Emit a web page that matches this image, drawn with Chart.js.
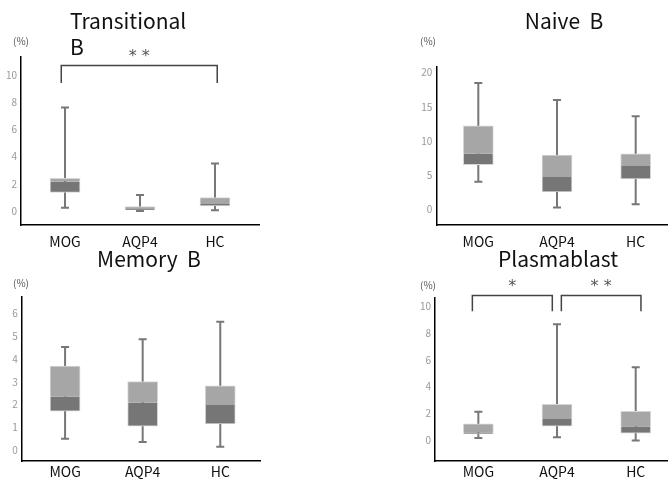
<!DOCTYPE html>
<html>
<head>
<meta charset="utf-8">
<script src="https://cdn.jsdelivr.net/npm/chart.js@4.4.0/dist/chart.umd.min.js"></script>
<style>
body { margin: 0; background: #fff; }
#wrap { position: relative; width: 668px; height: 479px; overflow: hidden; }
canvas { position: absolute; }
</style>
</head>
<body>
<div id="wrap">
  <canvas id="c1" style="left:0px;top:0px" width="334" height="252"></canvas>
  <canvas id="c2" style="left:334px;top:0px" width="334" height="252"></canvas>
  <canvas id="c3" style="left:0px;top:240px" width="334" height="239"></canvas>
  <canvas id="c4" style="left:334px;top:240px" width="334" height="239"></canvas>
</div>
<script>
var groups = ['MOG', 'AQP4', 'HC'];

// Transitional B (%)
var transMin = [0.24, 0.0, 0.05];
var transQ1  = [1.37, 0.07, 0.37];
var transMed = [2.17, 0.13, 0.51];
var transQ3  = [2.4, 0.32, 0.98];
var transMax = [7.6, 1.18, 3.5];
var transTicks = [0, 2, 4, 6, 8, 10];

// Naive B (%)
var naiveMin = [4.0, 0.2, 0.7];
var naiveQ1  = [6.5, 2.5, 4.4];
var naiveMed = [8.1, 4.7, 6.3];
var naiveQ3  = [12.2, 7.9, 8.1];
var naiveMax = [18.5, 16.0, 13.6];
var naiveTicks = [0, 5, 10, 15, 20];

// Memory B (%)
var memMin = [0.5, 0.35, 0.15];
var memQ1  = [1.71, 1.05, 1.15];
var memMed = [2.34, 2.09, 1.98];
var memQ3  = [3.69, 3.01, 2.82];
var memMax = [4.53, 4.86, 5.63];
var memTicks = [0, 1, 2, 3, 4, 5, 6];

// Plasmablast (%)
var plasMin = [0.15, 0.2, -0.05];
var plasQ1  = [0.45, 1.03, 0.5];
var plasMed = [0.55, 1.58, 1.0];
var plasQ3  = [1.2, 2.68, 2.15];
var plasMax = [2.12, 8.68, 5.45];
var plasTicks = [0, 2, 4, 6, 8, 10];

var fontJP = '"Noto Sans CJK JP", "Noto Sans", sans-serif';

// whiskers under the boxes, drawn through the scales
var whiskerPlugin = {
  id: 'whiskers',
  beforeDatasetsDraw: function(chart) {
    var o = chart.options.plugins.whiskers;
    var xs = chart.scales.x, ys = chart.scales.y, ctx = chart.ctx;
    ctx.save();
    ctx.strokeStyle = '#777';
    ctx.lineWidth = 2;
    for (var i = 0; i < o.min.length; i++) {
      var x = xs.getPixelForValue(i);
      var y1 = ys.getPixelForValue(o.min[i]);
      var y2 = ys.getPixelForValue(o.max[i]);
      ctx.beginPath();
      ctx.moveTo(x, y1); ctx.lineTo(x, y2);
      ctx.moveTo(x - 4, y1); ctx.lineTo(x + 4, y1);
      ctx.moveTo(x - 4, y2); ctx.lineTo(x + 4, y2);
      ctx.stroke();
    }
    ctx.restore();
  }
};

// title, unit label and significance brackets
var notePlugin = {
  id: 'notes',
  afterDraw: function(chart) {
    var o = chart.options.plugins.notes;
    var xs = chart.scales.x, ys = chart.scales.y, ctx = chart.ctx;
    ctx.save();
    ctx.fillStyle = '#111';
    ctx.font = '21px ' + fontJP;
    ctx.textBaseline = 'alphabetic';
    o.title.forEach(function(t) {
      ctx.textAlign = t.align;
      ctx.fillText(t.text, t.x, t.y);
    });
    ctx.fillStyle = '#555';
    ctx.font = '10px ' + fontJP;
    ctx.textAlign = 'center';
    ctx.textBaseline = 'middle';
    ctx.fillText('(%)', o.unit[0], o.unit[1]);
    (o.brackets || []).forEach(function(b) {
      var xa = xs.getPixelForValue(b.from), xb = xs.getPixelForValue(b.to);
      var yt = ys.getPixelForValue(b.top), yb = ys.getPixelForValue(b.bottom);
      ctx.strokeStyle = '#444';
      ctx.lineWidth = 1.5;
      ctx.beginPath();
      ctx.moveTo(xa, yb); ctx.lineTo(xa, yt); ctx.lineTo(xb, yt); ctx.lineTo(xb, yb);
      ctx.stroke();
      ctx.fillStyle = '#555';
      ctx.font = '16px "DejaVu Sans", sans-serif';
      ctx.textAlign = 'center';
      ctx.textBaseline = 'middle';
      ctx.fillText(b.label, (xa + xb) / 2, yt - 9);
    });
    ctx.restore();
  }
};

function makePanel(id, p) {
  var pairs = function(a, b) {
    return groups.map(function(g, i) { return { x: i, y: [a[i], b[i]] }; });
  };
  return new Chart(document.getElementById(id), {
    type: 'bar',
    data: {
      datasets: [{
        label: 'lower',
        data: pairs(p.q1, p.med),
        backgroundColor: '#767676',
        borderColor: '#d6d6d6',
        borderWidth: 1,
        borderSkipped: 'end',
        barThickness: 30,
        grouped: false
      }, {
        label: 'upper',
        data: pairs(p.med, p.q3),
        backgroundColor: '#a6a6a6',
        borderColor: '#d6d6d6',
        borderWidth: 1,
        borderSkipped: 'start',
        barThickness: 30,
        grouped: false
      }]
    },
    options: {
      responsive: false,
      animation: false,
      layout: { padding: p.pad },
      plugins: {
        legend: { display: false },
        tooltip: { enabled: false },
        whiskers: { min: p.min, max: p.max },
        notes: { title: p.title, unit: p.unit, brackets: p.brackets }
      },
      scales: {
        x: {
          type: 'linear',
          offset: false,
          min: p.xr[0], max: p.xr[1],
          afterBuildTicks: function(s) { s.ticks = groups.map(function(g, i) { return { value: i }; }); },
          afterFit: function(s) { s.height = p.xh; },
          grid: { display: false, drawTicks: false },
          border: { display: true, color: '#000', width: 1.5 },
          ticks: {
            padding: p.xpad,
            color: '#111',
            font: { family: fontJP, size: 14 },
            maxRotation: 0,
            autoSkip: false,
            callback: function(v) { return groups[v]; }
          }
        },
        y: {
          min: p.yr[0], max: p.yr[1],
          afterBuildTicks: function(s) { s.ticks = p.ticks.map(function(v) { return { value: v }; }); },
          afterFit: function(s) { s.width = p.yw; },
          grid: { display: false, drawTicks: false },
          border: { display: true, color: '#000', width: 1.5 },
          ticks: {
            padding: 4,
            color: '#999',
            font: { family: fontJP, size: 10 },
            autoSkip: false
          }
        }
      }
    },
    plugins: [whiskerPlugin, notePlugin]
  });
}

makePanel('c1', {
  min: transMin, q1: transQ1, med: transMed, q3: transQ3, max: transMax, ticks: transTicks,
  xr: [-0.587, 2.587], yr: [-1.03, 11.32],
  pad: { left: 0, top: 57, right: 75, bottom: 0 }, yw: 21, xh: 27, xpad: 8,
  title: [{ text: 'Transitional', x: 70, y: 29, align: 'left' }, { text: 'B', x: 70, y: 55, align: 'left' }],
  unit: [21, 41],
  brackets: [{ from: -0.05, to: 2.03, top: 10.7, bottom: 9.4, label: '* *' }]
});

makePanel('c2', {
  min: naiveMin, q1: naiveQ1, med: naiveMed, q3: naiveQ3, max: naiveMax, ticks: naiveTicks,
  xr: [-0.534, 2.398], yr: [-2.35, 20.88],
  pad: { left: 0, top: 66.7, right: 1, bottom: 0 }, yw: 102.3, xh: 27, xpad: 8,
  title: [{ text: 'Naive  B', x: 230, y: 29, align: 'center' }],
  unit: [94, 41],
  brackets: []
});

makePanel('c3', {
  min: memMin, q1: memQ1, med: memMed, q3: memQ3, max: memMax, ticks: memTicks,
  xr: [-0.559, 2.512], yr: [-0.48, 6.72],
  pad: { left: 0, top: 57, right: 74, bottom: 0 }, yw: 21.7, xh: 18, xpad: 2,
  title: [{ text: 'Memory  B', x: 149, y: 26.7, align: 'center' }],
  unit: [21, 43],
  brackets: []
});

makePanel('c4', {
  min: plasMin, q1: plasQ1, med: plasMed, q3: plasQ3, max: plasMax, ticks: plasTicks,
  xr: [-0.551, 2.398], yr: [-1.58, 10.7],
  pad: { left: 0, top: 57.3, right: 1, bottom: 0 }, yw: 101, xh: 18, xpad: 2,
  title: [{ text: 'Plasmablast', x: 224, y: 26.7, align: 'center' }],
  unit: [94, 45.7],
  brackets: [
    { from: -0.076, to: 0.94, top: 10.83, bottom: 9.65, label: '*' },
    { from: 1.055, to: 2.067, top: 10.83, bottom: 9.65, label: '* *' }
  ]
});
</script>
</body>
</html>
